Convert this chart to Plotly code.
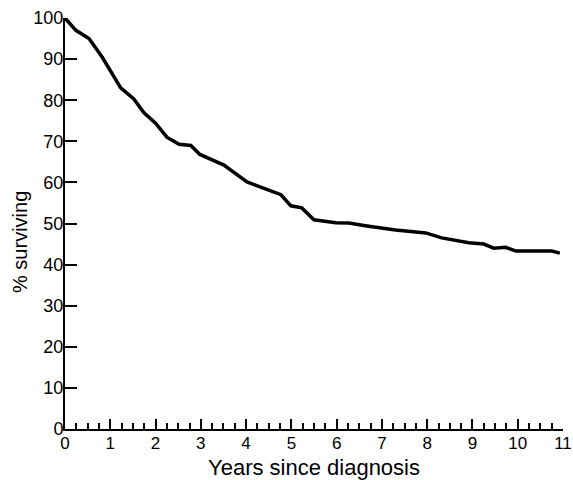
import plotly.graph_objects as go

years = [0.0, 0.04, 0.24, 0.53, 0.82, 1.23, 1.52, 1.74, 2.0, 2.25, 2.52, 2.78, 2.98,
         3.51, 4.02, 4.77, 4.99, 5.23, 5.5, 5.98, 6.27, 6.67, 7.3, 7.97, 8.32, 8.92,
         9.25, 9.47, 9.73, 9.96, 10.75, 10.93]
surviving = [100.0, 99.5, 97.0, 95.0, 90.5, 83.0, 80.3, 77.0, 74.4, 71.0, 69.3, 69.0, 66.8,
             64.2, 60.1, 57.0, 54.3, 53.8, 50.9, 50.2, 50.1, 49.4, 48.4, 47.7, 46.5, 45.3,
             45.0, 44.0, 44.2, 43.3, 43.3, 42.8]

x_ticks = list(range(0, 12))
y_ticks = list(range(0, 101, 10))

x_title = "Years since diagnosis"
y_title = "% surviving"

font_family = "Liberation Sans, Arial, sans-serif"

fig = go.Figure()
fig.add_trace(go.Scatter(x=years, y=surviving, mode="lines",
                         line=dict(color="black", width=3.5), showlegend=False))

fig.update_layout(
    width=573, height=480,
    margin=dict(l=65, r=10, t=18, b=51, autoexpand=False),
    paper_bgcolor="white", plot_bgcolor="white",
    font=dict(family=font_family, color="black", size=17),
    annotations=[
        dict(text=x_title, xref="paper", yref="paper", x=0.5, y=0, yshift=-38,
             xanchor="center", yanchor="middle", showarrow=False,
             font=dict(size=22, family=font_family, color="black")),
        dict(text=y_title, xref="paper", yref="paper", x=0, y=0.455, xshift=-45,
             xanchor="center", yanchor="middle", textangle=-90, showarrow=False,
             font=dict(size=20, family=font_family, color="black")),
    ],
)
fig.update_xaxes(
    range=[0, 11], tickvals=x_ticks, ticktext=[str(v) for v in x_ticks],
    showline=True, linecolor="black", linewidth=2,
    ticks="inside", ticklen=10, tickwidth=1.5, tickcolor="black",
    minor=dict(dtick=0.25, tick0=0, ticks="inside", ticklen=6, tickwidth=1.5, tickcolor="black"),
    showgrid=False, zeroline=False, automargin=False,
    tickfont=dict(size=17), ticklabelstandoff=-2,
)
fig.update_yaxes(
    range=[0, 100], tickvals=y_ticks, ticktext=[str(v) for v in y_ticks],
    showline=True, linecolor="black", linewidth=2,
    ticks="inside", ticklen=12, tickwidth=1.5, tickcolor="black",
    showgrid=False, zeroline=False, automargin=False,
    tickfont=dict(size=18), ticklabelstandoff=-4,
)

# remove the default 8px page margin so the figure fills the window exactly
fig.write_html("out.html",
               config={"displayModeBar": False},
               post_script="document.body.style.margin='0';document.body.style.overflow='hidden';")
